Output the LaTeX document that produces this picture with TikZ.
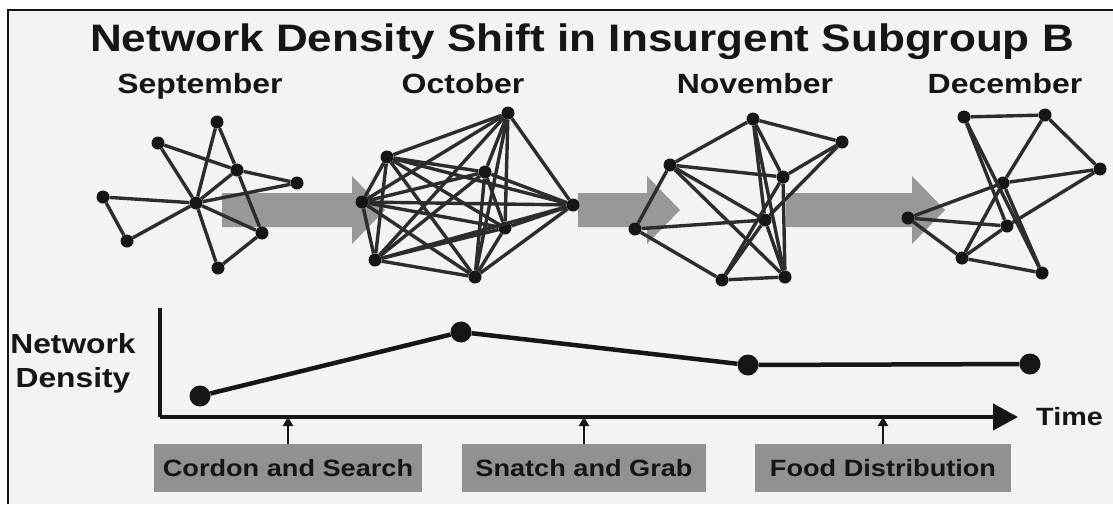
\documentclass[tikz,border=0pt]{standalone}
\usepackage{fontspec}
\setmainfont{Liberation Sans}[FakeStretch=1.15]
\usetikzlibrary{arrows.meta,positioning}
\definecolor{panelgray}{RGB}{243,243,243}
\definecolor{bandgray}{RGB}{152,152,152}
\definecolor{boxgray}{RGB}{145,145,145}
\definecolor{linkgray}{RGB}{45,45,45}
\definecolor{inkblack}{RGB}{22,22,22}

\begin{document}
\begin{tikzpicture}[x=1pt, y=-1pt,
    link/.style={draw=linkgray, line width=3.4pt},
    netdot/.style={circle, fill=inkblack, inner sep=0pt, minimum size=13pt},
    ptdot/.style={circle, fill=inkblack, inner sep=0pt, minimum size=21pt},
    series/.style={draw=inkblack, line width=4.5pt},
    axis/.style={draw=inkblack, line width=4.5pt},
    month/.style={font=\bfseries\fontsize{27.8}{30}\selectfont, text=inkblack, anchor=base},
    axlabel/.style={font=\bfseries\fontsize{27.6}{30}\selectfont, text=inkblack, anchor=base},
    actbox/.style={fill=boxgray, minimum height=48pt, inner sep=0pt, font=\bfseries\fontsize{23.6}{26}\selectfont, text=inkblack},
    tick/.style={draw=inkblack, line width=2.5pt, -{Triangle[length=9pt,width=10pt]}},
    band/.style={fill=bandgray}]
  \useasboundingbox (0,0) rectangle (1113,504);

  % panel
  \fill[white] (0,0) rectangle (1113,504);
  \fill[panelgray] (8,10) rectangle (1113,504);
  \draw[inkblack, line width=2pt] (8,504) -- (8,10) -- (1113,10);

  % titles
  \node[font=\bfseries\fontsize{38.3}{40}\selectfont, text=inkblack, anchor=base] (title) at (582,51) {Network Density Shift in Insurgent Subgroup B};
  \node[month] (sep) at (200,93) {September};
  \node[month] (oct) at (463,93) {October};
  \node[month] (nov) at (755,93) {November};
  \node[month] (dec) at (1005,93) {December};

  % gray time arrows behind the networks
  \foreach \xa/\xb in {222/352, 578/647, 786/912}
    \fill[band] (\xa,193) -- (\xb,193) -- (\xb,176) -- (\xb+33,210) -- (\xb,244) -- (\xb,227) -- (\xa,227) -- cycle;

  % September
  \node[netdot] (s1) at (217,122) {};
  \node[netdot] (s2) at (158,143) {};
  \node[netdot] (s3) at (237,170) {};
  \node[netdot] (s4) at (297,183) {};
  \node[netdot] (s5) at (103,197) {};
  \node[netdot] (s6) at (196,203) {};
  \node[netdot] (s7) at (127,241) {};
  \node[netdot] (s8) at (262,233) {};
  \node[netdot] (s9) at (218,268) {};
  \foreach \u/\v in {s1/s6, s1/s3, s3/s8, s2/s3, s3/s4, s2/s6, s6/s9, s5/s6,
                     s5/s7, s7/s6, s6/s3, s6/s4, s6/s8, s8/s9}
    \draw[link] (\u) -- (\v);

  % October
  \node[netdot] (o1) at (508,113) {};
  \node[netdot] (o2) at (387,157) {};
  \node[netdot] (o3) at (485,172) {};
  \node[netdot] (o4) at (362,202) {};
  \node[netdot] (o5) at (573,205) {};
  \node[netdot] (o6) at (505,228) {};
  \node[netdot] (o7) at (375,260) {};
  \node[netdot] (o8) at (475,277) {};
  \foreach \i in {1,...,7} {
    \pgfmathtruncatemacro\k{\i+1}
    \foreach \j in {\k,...,8}
      \draw[link] (o\i) -- (o\j);
  }

  % November
  \node[netdot] (n1) at (753,119) {};
  \node[netdot] (n2) at (842,142) {};
  \node[netdot] (n3) at (670,165) {};
  \node[netdot] (n4) at (783,177) {};
  \node[netdot] (n5) at (765,220) {};
  \node[netdot] (n6) at (635,229) {};
  \node[netdot] (n7) at (722,280) {};
  \node[netdot] (n8) at (785,277) {};
  \foreach \u/\v in {n1/n2, n1/n3, n1/n4, n1/n5, n1/n8, n2/n4, n2/n5, n3/n4, n3/n5,
                     n3/n8, n3/n6, n6/n5, n6/n7, n7/n8, n4/n8, n4/n7, n5/n8, n5/n7}
    \draw[link] (\u) -- (\v);

  % December
  \node[netdot] (d1) at (964,117) {};
  \node[netdot] (d2) at (1045,115) {};
  \node[netdot] (d3) at (1100,169) {};
  \node[netdot] (d4) at (1003,183) {};
  \node[netdot] (d5) at (908,218) {};
  \node[netdot] (d6) at (1007,226) {};
  \node[netdot] (d7) at (962,258) {};
  \node[netdot] (d8) at (1042,273) {};
  \foreach \u/\v in {d1/d2, d2/d3, d1/d6, d1/d8, d2/d4, d4/d7, d3/d4, d3/d6, d4/d5,
                     d5/d6, d5/d7, d7/d8, d6/d7, d4/d8}
    \draw[link] (\u) -- (\v);

  % density chart
  \coordinate (ytop) at (160,308);
  \coordinate (origin) at (160,417);
  \coordinate (tend) at (1018,417);
  \draw[axis] (ytop) -- (origin);
  \draw[axis, -{Triangle[length=25pt,width=26pt]}] (origin) -- (tend);
  \node[axlabel] (netlbl) at (73,353) {Network};
  \node[axlabel] (denslbl) at (73,387) {Density};
  \node[axlabel, font=\bfseries\fontsize{25}{28}\selectfont, anchor=base west, inner sep=0pt] (time) at (1036,425) {Time};

  \node[ptdot] (p1) at (200,396) {};
  \node[ptdot] (p2) at (461,332) {};
  \node[ptdot] (p3) at (748,365) {};
  \node[ptdot] (p4) at (1030,364) {};
  \draw[series] (p1) -- (p2) -- (p3) -- (p4);

  % operations
  \node[actbox, minimum width=268pt] (cordon) at (288,468) {Cordon and Search};
  \node[actbox, minimum width=244pt] (snatch) at (584,468) {Snatch and Grab};
  \node[actbox, minimum width=256pt] (food) at (883,468) {Food Distribution};
  \foreach \b in {cordon, snatch, food}
    \draw[tick] (\b.north) -- (\b.north |- origin);
\end{tikzpicture}
\end{document}
